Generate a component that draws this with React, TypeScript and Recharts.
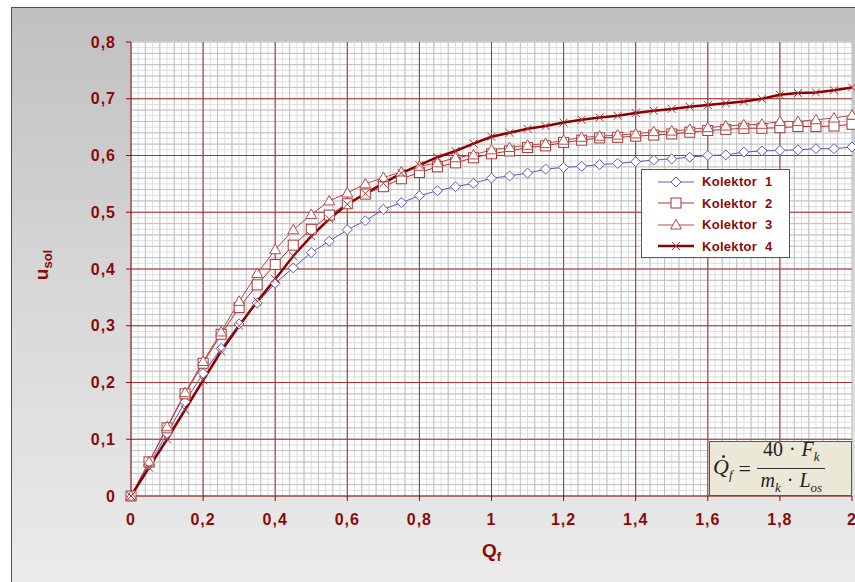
import React from "react"
import { LineChart, Line, XAxis, YAxis, CartesianGrid } from "recharts"

const xValues = [0, 0.05, 0.1, 0.15, 0.2, 0.25, 0.3, 0.35, 0.4, 0.45, 0.5, 0.55, 0.6, 0.65, 0.7, 0.75, 0.8, 0.85, 0.9, 0.95, 1, 1.05, 1.1, 1.15, 1.2, 1.25, 1.3, 1.35, 1.4, 1.45, 1.5, 1.55, 1.6, 1.65, 1.7, 1.75, 1.8, 1.85, 1.9, 1.95, 2]
const kolektor1 = [0, 0.055, 0.11, 0.166, 0.216, 0.26, 0.303, 0.34, 0.375, 0.402, 0.429, 0.449, 0.469, 0.485, 0.505, 0.517, 0.529, 0.538, 0.545, 0.551, 0.56, 0.564, 0.569, 0.576, 0.579, 0.581, 0.584, 0.586, 0.589, 0.592, 0.594, 0.597, 0.6, 0.601, 0.606, 0.608, 0.609, 0.61, 0.612, 0.612, 0.615]
const kolektor2 = [0, 0.06, 0.12, 0.18, 0.234, 0.285, 0.332, 0.372, 0.408, 0.442, 0.47, 0.495, 0.515, 0.532, 0.545, 0.559, 0.57, 0.58, 0.587, 0.596, 0.603, 0.608, 0.614, 0.617, 0.623, 0.627, 0.631, 0.632, 0.634, 0.636, 0.638, 0.641, 0.644, 0.646, 0.648, 0.648, 0.649, 0.651, 0.651, 0.652, 0.655]
const kolektor3 = [0, 0.06, 0.122, 0.182, 0.237, 0.289, 0.343, 0.392, 0.434, 0.469, 0.496, 0.52, 0.534, 0.55, 0.561, 0.571, 0.581, 0.587, 0.596, 0.601, 0.61, 0.614, 0.618, 0.621, 0.627, 0.632, 0.634, 0.636, 0.638, 0.642, 0.643, 0.646, 0.649, 0.652, 0.654, 0.655, 0.66, 0.66, 0.663, 0.666, 0.671]
const kolektor4 = [0, 0.05, 0.1, 0.152, 0.204, 0.255, 0.3, 0.343, 0.382, 0.423, 0.458, 0.488, 0.514, 0.533, 0.551, 0.569, 0.583, 0.597, 0.608, 0.621, 0.633, 0.64, 0.647, 0.652, 0.658, 0.663, 0.667, 0.67, 0.675, 0.679, 0.682, 0.686, 0.689, 0.692, 0.695, 0.7, 0.707, 0.71, 0.711, 0.715, 0.72]
const seriesNames = ["Kolektor  1", "Kolektor  2", "Kolektor  3", "Kolektor  4"]
const xTicks = [0, 0.2, 0.4, 0.6, 0.8, 1, 1.2, 1.4, 1.6, 1.8, 2]
const yTicks = [0, 0.1, 0.2, 0.3, 0.4, 0.5, 0.6, 0.7, 0.8]

const data = xValues.map((x, i) => ({ x, k1: kolektor1[i], k2: kolektor2[i], k3: kolektor3[i], k4: kolektor4[i] }))

// grid helpers (not data): fine light lines, every second one darker
const fineX = Array.from({ length: 101 }, (_, i) => +(i * 0.02).toFixed(2))
const fineY = Array.from({ length: 81 }, (_, i) => +(i * 0.01).toFixed(2))
const midX = Array.from({ length: 51 }, (_, i) => +(i * 0.04).toFixed(2))
const midY = Array.from({ length: 41 }, (_, i) => +(i * 0.02).toFixed(2))
const majorX = [0.2, 0.4, 0.6, 0.8, 1, 1.2, 1.4, 1.6, 1.8]
const majorY = [0.1, 0.2, 0.3, 0.4, 0.5, 0.6, 0.7]

const DARK = "#8b0a0a"
const BLUE = "#5a5ac0"
const RED2 = "#a63636"
const RED3 = "#b34a4a"
const RED4 = "#8b0000"
const FONT = "Arial, 'Liberation Sans', sans-serif"

const fmt = (v: number) => String(v).replace(".", ",")

function Marker({ kind, cx, cy, color }: { kind: number; cx: number; cy: number; color: string }) {
  if (kind === 1) return <path d={`M${cx},${cy - 5} L${cx + 5},${cy} L${cx},${cy + 5} L${cx - 5},${cy} Z`} fill="#fff" stroke={color} strokeWidth={1} />
  if (kind === 2) return <rect x={cx - 5} y={cy - 5} width={10} height={10} fill="#fff" stroke={color} strokeWidth={1} />
  if (kind === 3) return <path d={`M${cx},${cy - 5.5} L${cx + 5.5},${cy + 4} L${cx - 5.5},${cy + 4} Z`} fill="#fff" stroke={color} strokeWidth={1} />
  return <path d={`M${cx - 4},${cy - 4} L${cx + 4},${cy + 4} M${cx - 4},${cy + 4} L${cx + 4},${cy - 4}`} stroke={color} strokeWidth={1} fill="none" />
}

const dotFor = (kind: number, color: string) => (p: any) => {
  if (p.cx == null || p.cy == null) return <g key={p.index} />
  return <g key={p.index}><Marker kind={kind} cx={p.cx} cy={p.cy} color={color} /></g>
}

const legendRows = [
  { name: seriesNames[0], kind: 1, color: BLUE, width: 1 },
  { name: seriesNames[1], kind: 2, color: RED2, width: 1 },
  { name: seriesNames[2], kind: 3, color: RED3, width: 1 },
  { name: seriesNames[3], kind: 4, color: RED4, width: 2.5 },
]

function LegendBox() {
  return (
    <div style={{ position: "absolute", left: 641, top: 169, width: 149, height: 89, background: "#fff", border: `1px solid ${RED2}`, boxSizing: "border-box", padding: "1px 0 0 12px" }}>
      {legendRows.map((r) => (
        <div key={r.name} style={{ display: "flex", alignItems: "center", height: 21.5 }}>
          <svg width={44} height={14} style={{ marginRight: 4 }}>
            <line x1={4} y1={7} x2={40} y2={7} stroke={r.color} strokeWidth={r.width} />
            <Marker kind={r.kind} cx={22} cy={7} color={r.kind === 4 ? RED2 : r.color} />
          </svg>
          <span style={{ fontFamily: FONT, fontWeight: "bold", fontSize: 13, color: DARK, whiteSpace: "pre", letterSpacing: 0.3 }}>{r.name}</span>
        </div>
      ))}
    </div>
  )
}

function Formula() {
  const serif = "'Liberation Serif', 'DejaVu Serif', serif"
  const sub = { fontSize: 13, fontStyle: "italic" as const }
  const dot = <span style={{ margin: "0 6px" }}>·</span>
  return (
    <div style={{ position: "absolute", left: 709, top: 441, width: 143, height: 55, background: "#ebe8d8", border: "1.5px solid #9e3a3a", boxSizing: "border-box", display: "flex", alignItems: "center", fontFamily: serif, fontSize: 22, color: "#222", paddingLeft: 3 }}>
      <span style={{ position: "relative", fontStyle: "italic" }}>
        Q
        <span style={{ position: "absolute", left: 9, top: 1, width: 3, height: 3, borderRadius: 2, background: "#333" }} />
        <sub style={{ fontSize: 13 }}>f</sub>
      </span>
      <span style={{ margin: "0 6px 0 6px" }}>=</span>
      <span style={{ display: "inline-flex", flexDirection: "column", alignItems: "center", fontSize: 20 }}>
        <span style={{ padding: "0 6px", lineHeight: "22px" }}>40{dot}<i>F</i><sub style={sub}>k</sub></span>
        <span style={{ borderTop: "1px solid #333", padding: "0 3px", lineHeight: "23px" }}><i>m</i><sub style={sub}>k</sub>{dot}<i>L</i><sub style={sub}>os</sub></span>
      </span>
    </div>
  )
}

export default function App() {
  return (
    <div style={{ position: "absolute", left: 0, top: 0, width: 855, height: 582, overflow: "hidden", background: "#fff" }}>
      <div style={{ position: "absolute", left: 11, top: 7, width: 860, height: 590, borderLeft: "1px solid #9b3030", borderTop: "1px solid #9b3030", background: "linear-gradient(180deg, #c0c0c0 0%, #d6d6d6 45%, #ececec 100%)" }} />
      <LineChart width={855} height={582} data={data} margin={{ top: 42, right: 3, bottom: 46, left: 71 }} style={{ position: "absolute", left: 0, top: 0 }}>
        <CartesianGrid fill="#fff" stroke="#dedede" strokeWidth={1} verticalValues={fineX} horizontalValues={fineY} />
        <CartesianGrid stroke="#c2c2c2" strokeWidth={1} verticalValues={midX} horizontalValues={midY} />
        <CartesianGrid stroke="#ad3030" strokeWidth={1} verticalValues={majorX} horizontalValues={majorY} />
        <XAxis
          type="number"
          dataKey="x"
          domain={[0, 2]}
          ticks={xTicks}
          tickFormatter={fmt}
          stroke={DARK}
          tickSize={5}
          tickMargin={13}
          height={40}
          interval={0}
          tick={{ fill: DARK, fontSize: 16, fontWeight: "bold", fontFamily: FONT, letterSpacing: 1 }}
          label={{
            content: (p: any) => {
              const vb = p.viewBox
              return (
                <text x={vb.x + vb.width / 2} y={vb.y + 61} textAnchor="middle" fill={DARK} fontFamily={FONT} fontWeight="bold">
                  <tspan fontSize={19}>Q</tspan>
                  <tspan fontSize={13} dy={4}>f</tspan>
                </text>
              )
            },
          }}
        />
        <YAxis
          type="number"
          domain={[0, 0.8]}
          ticks={yTicks}
          tickFormatter={fmt}
          stroke={DARK}
          tickSize={5}
          tickMargin={10}
          width={60}
          interval={0}
          tick={{ fill: DARK, fontSize: 16, fontWeight: "bold", fontFamily: FONT, letterSpacing: 1 }}
          label={{
            content: (p: any) => {
              const vb = p.viewBox
              const cx = vb.x - 23
              const cy = vb.y + vb.height / 2 - 4
              return (
                <text x={cx} y={cy} transform={`rotate(-90 ${cx} ${cy})`} textAnchor="middle" fill={DARK} fontFamily={FONT} fontWeight="bold">
                  <tspan fontSize={19}>u</tspan>
                  <tspan fontSize={13} dy={4}>sol</tspan>
                </text>
              )
            },
          }}
        />
        <Line type="linear" dataKey="k1" name={seriesNames[0]} stroke={BLUE} strokeWidth={1} dot={dotFor(1, BLUE)} isAnimationActive={false} />
        <Line type="linear" dataKey="k2" name={seriesNames[1]} stroke={RED2} strokeWidth={1} dot={dotFor(2, RED2)} isAnimationActive={false} />
        <Line type="linear" dataKey="k3" name={seriesNames[2]} stroke={RED3} strokeWidth={1} dot={dotFor(3, RED3)} isAnimationActive={false} />
        <Line type="linear" dataKey="k4" name={seriesNames[3]} stroke={RED4} strokeWidth={2.5} dot={dotFor(4, RED2)} isAnimationActive={false} />
      </LineChart>
      <LegendBox />
      <Formula />
    </div>
  )
}
